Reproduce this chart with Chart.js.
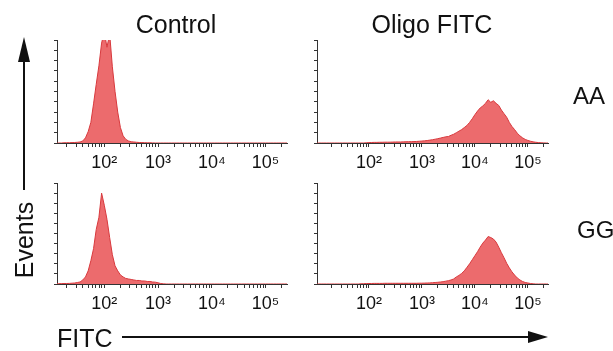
<!DOCTYPE html>
<html>
<head>
<meta charset="utf-8">
<title>FITC histograms</title>
<script src="https://cdn.jsdelivr.net/npm/chart.js@4.4.0/dist/chart.umd.min.js"></script>
<style>
  html, body { margin: 0; padding: 0; background: #fff; }
  #fig { position: relative; width: 613px; height: 351px; overflow: hidden; }
  #fig canvas { position: absolute; }
  #overlay { position: absolute; left: 0; top: 0; font-family: 'Liberation Sans', Arial, sans-serif; fill: #111; }
</style>
</head>
<body>
<div id="fig">
  <canvas id="ctlAA"></canvas>
  <canvas id="oliAA"></canvas>
  <canvas id="ctlGG"></canvas>
  <canvas id="oliGG"></canvas>
  <svg id="overlay" width="613" height="351">
    <text x="176" y="33" font-size="25" text-anchor="middle">Control</text>
    <text x="432" y="33" font-size="25" text-anchor="middle">Oligo FITC</text>
    <text x="573" y="104" font-size="24">AA</text>
    <text x="577" y="238" font-size="24">GG</text>
    <text x="57" y="347" font-size="25">FITC</text>
    <text transform="translate(33,240) rotate(-90)" font-size="25" text-anchor="middle">Events</text>
    <line x1="24" y1="190" x2="24" y2="55" stroke="#111" stroke-width="2"/>
    <polygon points="24,37 18,62 30,62" fill="#111"/>
    <line x1="122" y1="337" x2="535" y2="337" stroke="#111" stroke-width="2"/>
    <polygon points="548,337 528,331 528,343" fill="#111"/>
  </svg>
</div>
<script>
// --- Data: log10(FITC) bin centres and events (% of y-axis height) ---
const BINS = [
  1.00, 1.05, 1.10, 1.15, 1.20, 1.25, 1.30, 1.35, 1.40, 1.45,
  1.50, 1.55, 1.60, 1.65, 1.70, 1.75, 1.80, 1.85, 1.90, 1.95,
  2.00, 2.05, 2.10, 2.15, 2.20, 2.25, 2.30, 2.35, 2.40, 2.45,
  2.50, 2.55, 2.60, 2.65, 2.70, 2.75, 2.80, 2.85, 2.90, 2.95,
  3.00, 3.05, 3.10, 3.15, 3.20, 3.25, 3.30, 3.35, 3.40, 3.45,
  3.50, 3.55, 3.60, 3.65, 3.70, 3.75, 3.80, 3.85, 3.90, 3.95,
  4.00, 4.05, 4.10, 4.15, 4.20, 4.25, 4.30, 4.35, 4.40, 4.45,
  4.50, 4.55, 4.60, 4.65, 4.70, 4.75, 4.80, 4.85, 4.90, 4.95,
  5.00, 5.05, 5.10, 5.15, 5.20, 5.25, 5.30, 5.35, 5.40
];

const CONTROL_AA = [
  0, 0, 0, 0, 0, 0.2, 0.3, 0.3, 0.4, 0.5,
  0.7, 1, 2, 5, 11, 20, 38, 57, 75, 97,
  108, 93, 106, 74, 50, 30, 15, 7, 3.5, 2,
  1.2, 1, 0.7, 0.5, 0.4, 0.3, 0.2, 0.2, 0.1, 0,
  0, 0, 0, 0, 0, 0, 0, 0, 0, 0,
  0, 0, 0, 0, 0, 0, 0, 0, 0, 0,
  0, 0, 0, 0, 0, 0, 0, 0, 0, 0,
  0, 0, 0, 0, 0, 0, 0, 0, 0, 0,
  0, 0, 0, 0, 0, 0, 0, 0, 0
];

const OLIGO_AA = [
  0, 0, 0, 0, 0, 0, 0, 0, 0, 0,
  0, 0, 0, 0, 0, 0, 0, 0, 0, 0.2,
  0.4, 0.5, 0.6, 0.6, 0.7, 0.7, 0.8, 0.8, 0.8, 0.9,
  1, 1, 1, 1.1, 1.2, 1.3, 1.3, 1.4, 1.5, 1.7,
  1.9, 2.1, 2.4, 2.8, 3.2, 3.7, 4.2, 4.8, 5.4, 6,
  6.3, 7.5, 8.5, 10, 11.5, 13, 15, 17, 20, 23.5,
  27.5, 31, 34, 36, 38.5, 42, 39.5, 41, 38.5, 36.5,
  32, 28.5, 25, 20, 16, 13, 9.5, 7, 5, 3.5,
  2.5, 1.7, 1.1, 0.7, 0.4, 0.2, 0.1, 0, 0
];

const CONTROL_GG = [
  0, 0.2, 0.3, 0.3, 0.4, 0.5, 0.5, 0.6, 0.8, 1,
  1.5, 2, 4, 7, 13, 23, 35, 54, 66, 90,
  78, 64, 46, 29, 18, 13, 9, 7, 5.5, 5,
  4.5, 4, 3.5, 3.5, 3, 3, 2.5, 2.5, 2, 1.8,
  1.2, 0.5, 0.2, 0, 0, 0, 0, 0, 0, 0,
  0, 0, 0, 0, 0, 0, 0, 0, 0, 0,
  0, 0, 0, 0, 0, 0, 0, 0, 0, 0,
  0, 0, 0, 0, 0, 0, 0, 0, 0, 0,
  0, 0, 0, 0, 0, 0, 0, 0, 0
];

const OLIGO_GG = [
  0, 0, 0, 0, 0, 0, 0, 0, 0, 0,
  0, 0, 0, 0, 0, 0, 0, 0.2, 0.3, 0.4,
  0.5, 0.5, 0.6, 0.6, 0.6, 0.6, 0.7, 0.7, 0.7, 0.7,
  0.7, 0.7, 0.7, 0.7, 0.7, 0.7, 0.7, 0.7, 0.7, 0.8,
  0.8, 0.9, 1, 1.1, 1.3, 1.5, 1.7, 2, 2.3, 2.8,
  3.3, 4, 5, 7, 8.5, 10.5, 13, 16.5, 20, 24,
  28, 32, 36.5, 40.5, 43.5, 47, 46, 44.5, 41.5, 36.5,
  31, 26, 20.5, 16, 12, 8.8, 6, 4, 2.5, 1.5,
  1, 0.5, 0.2, 0, 0, 0, 0, 0, 0
];

const MAJOR_TICKS = [2, 3, 4, 5];
const TICK_LABELS = ['10²', '10³', '10⁴', '10⁵'];

const FILL = '#ec6b6d';
const EDGE = '#d8393d';
const AXIS = '#333';
const FONT = "'Liberation Sans', Arial, sans-serif";

// --- Log tick positions (major + minor) ---
function logTicks(min, max) {
  const t = [];
  for (let d = 1; d <= 5; d++) {
    for (let k = 1; k <= 9; k++) {
      const v = k === 1 ? d : d + Math.log10(k);
      if (v >= min && v <= max) t.push(v);
    }
  }
  return t;
}

// --- One histogram panel; area = chart area in page pixels ---
function makePanel(id, values, area, xMin, xMax) {
  const cv = document.getElementById(id);
  const w = area.right - area.left + 20;
  const h = area.bottom - area.top + 38;
  cv.width = w; cv.height = h;
  cv.style.left = (area.left - 10) + 'px';
  cv.style.top = (area.top - 6) + 'px';
  const ticks = logTicks(xMin, xMax);

  new Chart(cv, {
    type: 'line',
    data: {
      datasets: [{
        data: BINS.map((b, i) => ({ x: b, y: values[i] })),
        borderColor: EDGE, borderWidth: 1, backgroundColor: FILL,
        fill: 'origin', tension: 0, pointRadius: 0
      }]
    },
    options: {
      responsive: false, animation: false, devicePixelRatio: 1,
      layout: { padding: { left: 4, top: 6, right: 10, bottom: 4 } },
      plugins: { legend: { display: false }, tooltip: { enabled: false } },
      scales: {
        x: {
          type: 'linear', min: xMin, max: xMax,
          afterFit: s => { s.height = 28; },
          afterBuildTicks: s => { s.ticks = ticks.map(v => ({ value: v })); },
          grid: { drawOnChartArea: false, tickLength: 4, tickColor: AXIS },
          border: { display: true, color: AXIS, width: 1 },
          ticks: {
            autoSkip: false, maxRotation: 0, padding: 5, color: '#111',
            font: { family: FONT, size: 18 },
            callback: v => { const i = MAJOR_TICKS.indexOf(v); return i >= 0 ? TICK_LABELS[i] : ''; }
          }
        },
        y: {
          min: 0, max: 100,
          afterFit: s => { s.width = 6; },
          ticks: { display: false, stepSize: 10 },
          grid: { drawOnChartArea: false, tickLength: 3, tickColor: AXIS },
          border: { display: true, color: AXIS, width: 1 }
        }
      }
    }
  });
}

// --- Init ---
(function init() {
  makePanel('ctlAA', CONTROL_AA, { left: 57, right: 287, top: 40, bottom: 143 }, 1.12, 5.4);
  makePanel('oliAA', OLIGO_AA,   { left: 317, right: 548, top: 40, bottom: 143 }, 1.02, 5.38);
  makePanel('ctlGG', CONTROL_GG, { left: 57, right: 287, top: 183, bottom: 284 }, 1.12, 5.4);
  makePanel('oliGG', OLIGO_GG,   { left: 317, right: 548, top: 183, bottom: 284 }, 1.02, 5.38);
})();
</script>
</body>
</html>
